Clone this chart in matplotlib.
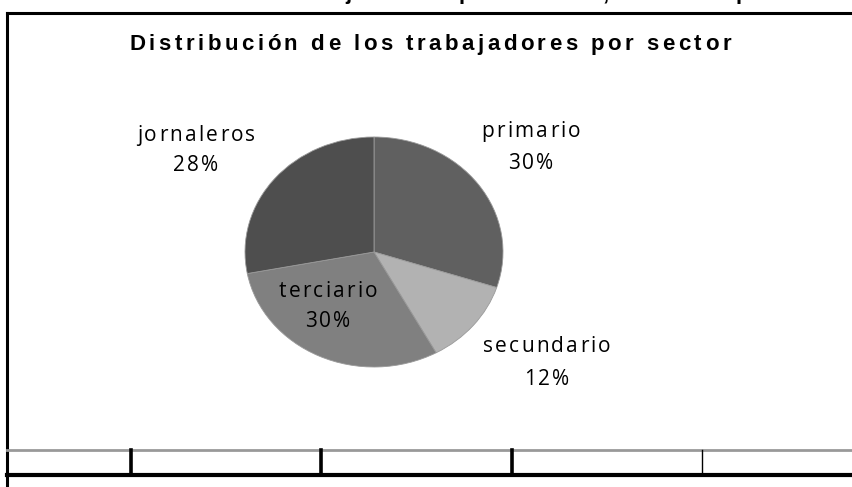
import matplotlib
matplotlib.use("Agg")
import matplotlib.pyplot as plt
from matplotlib.lines import Line2D
from matplotlib.font_manager import FontProperties
from matplotlib.textpath import TextToPath

# Data
categories = ["primario", "secundario", "terciario", "jornaleros"]
percentages = [30, 12, 30, 28]
colors = ["#606060", "#b2b2b2", "#808080", "#4e4e4e"]
title = "Distribución de los trabajadores por sector"
top_caption = "Distribución de trabajadores por sector, en el Departamento, Nocupétaro"

W, H = 853, 487
fig = plt.figure(figsize=(W / 100, H / 100), dpi=100)
fig.patch.set_facecolor("white")

# background overlay (frame lines)
ov = fig.add_axes([0, 0, 1, 1])
ov.set_xlim(0, W)
ov.set_ylim(H, 0)
ov.axis("off")

# pie axes (elliptical pie, like the original)
px0, py0, px1, py1 = 245, 137, 503, 367
pax = fig.add_axes([px0 / W, (H - py1) / H, (px1 - px0) / W, (py1 - py0) / H])
pax.pie(percentages, colors=colors, startangle=90, counterclock=False,
        wedgeprops=dict(linewidth=0.6, edgecolor="#9a9a9a"))
pax.set_aspect("auto")
pax.set_xlim(-1, 1)
pax.set_ylim(-1, 1)
pax.axis("off")

# foreground overlay for texts
fg = fig.add_axes([0, 0, 1, 1])
fg.set_xlim(0, W)
fg.set_ylim(H, 0)
fg.axis("off")
fg.patch.set_alpha(0)

# frame lines
ov.add_line(Line2D([7, W], [13, 13], color="black", lw=2.2))
ov.add_line(Line2D([7, 7], [13, H], color="black", lw=2.2))
ov.add_line(Line2D([7, W], [450, 450], color="#999999", lw=2.0))
ov.add_line(Line2D([7, W], [475, 475], color="black", lw=3.0))
for x, lw in [(131, 2.6), (321, 2.6), (512, 2.6), (702, 1.0)]:
    ov.add_line(Line2D([x, x], [450, 475], color="black", lw=lw))

t2p = TextToPath()


def char_w(ch, prop):
    w, h, d = t2p.get_text_width_height_descent(ch, prop, ismath=False)
    return w * 100.0 / 72.0  # points -> pixels


def tracked(ax, s, xc, y, prop, track, color="black", left=None):
    widths = [char_w(c, prop) for c in s]
    total = sum(widths) + track * (len(s) - 1)
    x = xc - total / 2.0 if left is None else left
    for c, w in zip(s, widths):
        if c != " ":
            ax.text(x, y, c, fontproperties=prop, ha="left", va="baseline",
                    color=color)
        x += w + track


# clipped caption at very top
cap_prop = FontProperties(family="Liberation Sans", weight="bold", size=16)
tracked(fg, top_caption, 0, -0.5, cap_prop, 3.5, left=50)

# title
title_prop = FontProperties(family="Liberation Sans", weight="bold", size=16)
tracked(fg, title, 430, 50, title_prop, 3.5)

# labels
lab_prop = FontProperties(family="Open Sans", size=15)
label_pos = [(531, 137, 169), (547, 352, 385), (328, 297, 327), (196, 141, 171)]
for (x, y1, y2), c, p in zip(label_pos, categories, percentages):
    tracked(fg, c, x, y1, lab_prop, 2.2, color="black")
    tracked(fg, f"{p}%", x, y2, lab_prop, 2.2, color="black")

fig.savefig("out.png", dpi=100, facecolor="white")
